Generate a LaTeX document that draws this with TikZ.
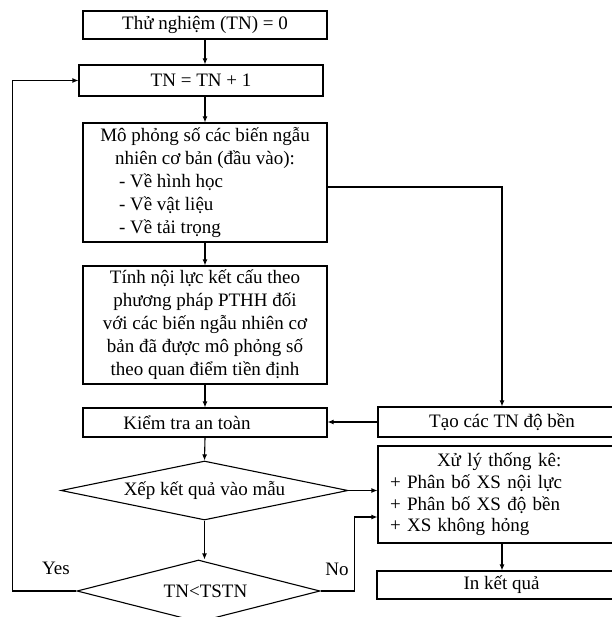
\documentclass[tikz,border=0pt]{standalone}
\usepackage{fontspec}
\setmainfont{Liberation Serif}
\usetikzlibrary{shapes.geometric,arrows.meta,calc}

\begin{document}
\begin{tikzpicture}[x=1pt,y=-1pt,
  font=\fontsize{19}{23}\selectfont,
  line width=1.1pt,
  proc/.style={draw, rectangle, inner sep=0pt, align=center},
  decide/.style={draw, diamond, inner sep=0pt, shape aspect=4.5},
  flow/.style={-{Latex[length=6pt,width=5pt]}},
  tag/.style={inner sep=0pt}
]
\useasboundingbox (0,0) rectangle (611,617);

% main column
\node[proc, minimum width=244, minimum height=28] (b0) at (205,25) {Thử nghiệm (TN) = 0};
\node[proc, minimum width=244, minimum height=31] (b1) at (201,80.5) {TN = TN + 1};
\node[proc, minimum width=244, minimum height=119] (b2) at (205,182.5)
  {Mô phỏng số các biến ngẫu\\
   nhiên cơ bản (đầu vào):\\
   \makebox[172pt][l]{- Về hình học}\\
   \makebox[172pt][l]{- Về vật liệu}\\
   \makebox[172pt][l]{- Về tải trọng}};
\node[proc, minimum width=244, minimum height=118] (b3) at (205,325)
  {Tính nội lực kết cấu theo\\
   phương pháp PTHH đối\\
   với các biến ngẫu nhiên cơ\\
   bản đã được mô phỏng số\\
   theo quan điểm tiền định};
\node[proc, minimum width=244, minimum height=29] (b4) at (205,422.5) {\hspace*{-36pt}Kiểm tra an toàn};
\node[decide, minimum width=287, minimum height=59] (d1) at (204.5,490.5) {Xếp kết quả vào mẫu};
\node[decide, minimum width=243, minimum height=62] (d2) at (198.5,591) {\hspace*{14pt}TN<TSTN};

% right column
\node[proc, minimum width=248, minimum height=30] (tao) at (502,422) {Tạo các TN độ bền};
\node[proc, minimum height=97, text width=224, inner xsep=12pt, align=left,
      font=\fontsize{19}{21.7}\selectfont] (xuly) at (502,494.5)
  {\hspace*{47pt}Xử lý thống kê:\\
   + Phân bố XS nội lực\\
   + Phân bố XS độ bền\\
   + XS không hỏng};
\node[proc, minimum width=249, minimum height=28] (inkq) at (501.5,585) {In kết quả};

% branch labels
\node[tag] (yes) at (56,568) {Yes};
\node[tag] (no) at (337,569) {No};

% connectors
\draw[flow] (b0.south) -- (b0.south |- b1.north);
\draw[flow] (b2.north |- b1.south) -- (b2.north);
\draw[flow] (b2.south) -- (b3.north);
\draw[flow] (b3.south) -- (b4.north);
\draw[flow] (b4.south) -- (d1.north);
\draw[flow] (d1.south) -- (d1.south |- d2.north);
\draw[flow] ([yshift=-4.5pt]b2.east) -| (tao.north);
\draw[flow] (tao.west) -- (tao.west -| b4.east);
\draw[flow] (d1.east) -- (d1.east -| xuly.west);
\draw[flow] (d2.east) -- ++(34,0) |- ([yshift=-22.5pt]xuly.west);
\draw[flow] (d2.west) -- ++(-64,0) |- (b1.west);
\draw[flow] (xuly.south) -- (xuly.south |- inkq.north);
\end{tikzpicture}
\end{document}
